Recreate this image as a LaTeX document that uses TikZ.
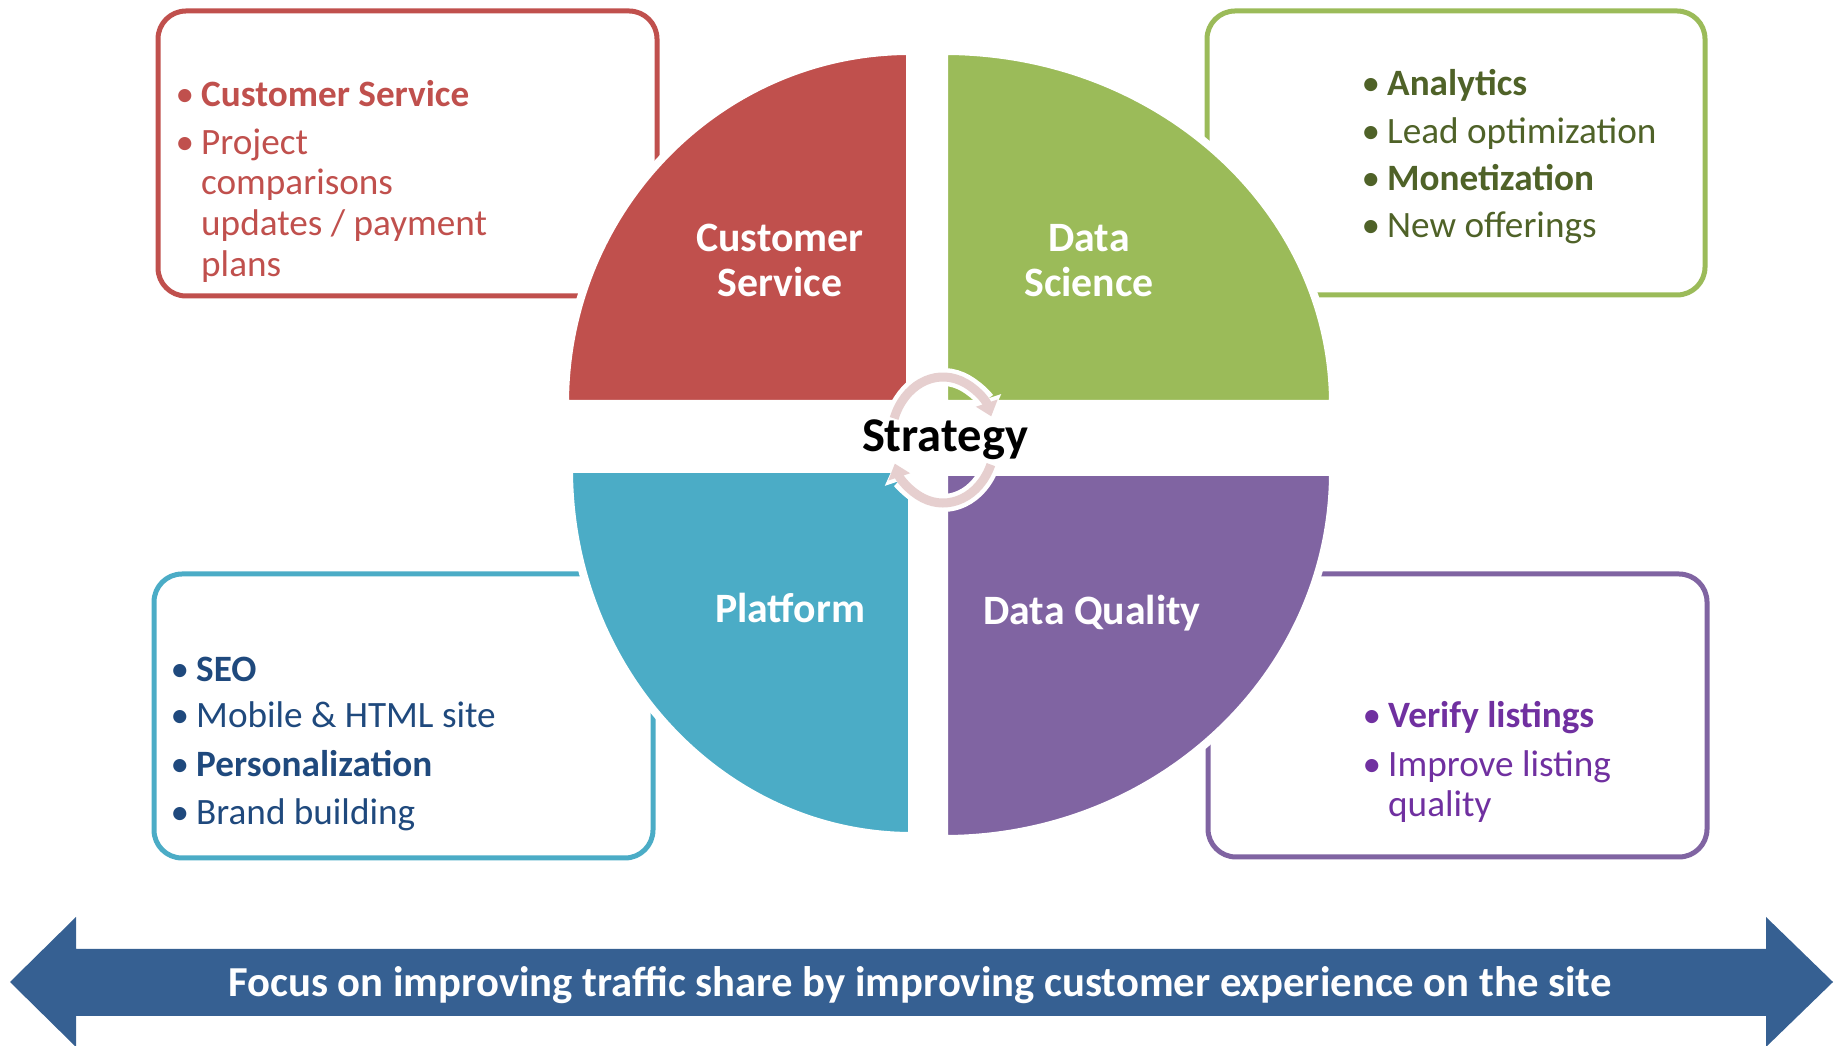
\documentclass[tikz,border=0pt]{standalone}
\usepackage{fontspec}
\setmainfont{Carlito}
\usetikzlibrary{arrows.meta}

\definecolor{csred}{HTML}{C0504D}
\definecolor{dsgreen}{HTML}{9BBB59}
\definecolor{dsdark}{HTML}{4F6228}
\definecolor{pfblue}{HTML}{4BACC6}
\definecolor{pfdark}{HTML}{1F497D}
\definecolor{dqpurple}{HTML}{8064A2}
\definecolor{dqdark}{HTML}{7030A0}
\definecolor{focusblue}{HTML}{366092}
\definecolor{ringpink}{HTML}{E6CFCF}

\newcommand{\itembullet}{\llap{\textbullet\hspace{7pt}}}

\begin{document}
\begin{tikzpicture}[x=1pt,y=1pt,inner sep=0pt,
  box/.style={line width=5pt,rounded corners=28pt},
  quad/.style={draw=white,line width=8pt},
  item/.style={anchor=base west,font=\fontsize{37.2}{44}\selectfont},
  qlabel/.style={anchor=base,text=white,font=\bfseries\fontsize{41.8}{45}\selectfont}]
\useasboundingbox (0,0) rectangle (1841,1046);

% boxes
\draw[box,csred] (158,750) rectangle (657,1035);
\draw[box,dsgreen] (1207,751) rectangle (1705,1035);
\draw[box,pfblue] (154,188) rectangle (653,472);
\draw[box,dqpurple] (1208,189) rectangle (1707,472);

% quadrants
\filldraw[quad,fill=csred] (910,642) -- (565,642) arc[start angle=180,end angle=90,x radius=345,y radius=353] -- cycle;
\filldraw[quad,fill=dsgreen] (944,642) -- (944,995) arc[start angle=90,end angle=0,x radius=389,y radius=353] -- cycle;
\filldraw[quad,fill=pfblue] (912,577) -- (569,577) arc[start angle=180,end angle=270,x radius=343,y radius=367] -- cycle;
\filldraw[quad,fill=dqpurple] (944,574) -- (1333,574) arc[start angle=0,end angle=-90,x radius=389,y radius=367] -- cycle;

\node[qlabel] (cst) at (780,794) {Customer};
\node[qlabel] (css) at (780,749) {Service};
\node[qlabel] (dst) at (1089,794) {Data};
\node[qlabel] (dss) at (1089,749) {Science};
\node[qlabel] (pft) at (790,423) {Platform};
\node[qlabel] (dqt) at (1092,421) {Data Quality};

% strategy ring
\coordinate (hub) at (943,606);
\draw[white,line width=18pt,-{Triangle[length=18pt,width=32pt]}] (hub) ++(160:52 and 63) arc[start angle=160,end angle=22,x radius=52,y radius=63];
\draw[white,line width=18pt,-{Triangle[length=18pt,width=32pt]}] (hub) ++(-23:52 and 63) arc[start angle=-23,end angle=-158,x radius=52,y radius=63];
\draw[ringpink,line width=9pt,-{Triangle[length=14pt,width=22pt]}] (hub) ++(160:52 and 63) arc[start angle=160,end angle=22,x radius=52,y radius=63];
\draw[ringpink,line width=9pt,-{Triangle[length=14pt,width=22pt]}] (hub) ++(-23:52 and 63) arc[start angle=-23,end angle=-158,x radius=52,y radius=63];
\node[anchor=base,font=\bfseries\fontsize{48.5}{52}\selectfont] (strategy) at (945,594) {Strategy};

% box texts
\node[item,text=csred] (cs1) at (201,939) {\itembullet\textbf{Customer Service}};
\node[item,text=csred] (cs2) at (201,891) {\itembullet Project};
\node[item,text=csred] (cs3) at (201,851) {comparisons};
\node[item,text=csred] (cs4) at (201,810) {updates / payment};
\node[item,text=csred] (cs5) at (201,769) {plans};

\node[item,text=dsdark] (ds1) at (1387,950) {\itembullet\textbf{Analytics}};
\node[item,text=dsdark] (ds2) at (1387,902) {\itembullet Lead optimization};
\node[item,text=dsdark] (ds3) at (1387,855) {\itembullet\textbf{Monetization}};
\node[item,text=dsdark] (ds4) at (1387,808) {\itembullet New offerings};

\node[item,text=pfdark] (pf1) at (196,364) {\itembullet\textbf{SEO}};
\node[item,text=pfdark] (pf2) at (196,318) {\itembullet Mobile \& HTML site};
\node[item,text=pfdark] (pf3) at (196,269) {\itembullet\textbf{Personalization}};
\node[item,text=pfdark] (pf4) at (196,221) {\itembullet Brand building};

\node[item,text=dqdark] (dq1) at (1388,318) {\itembullet\textbf{Verify listings}};
\node[item,text=dqdark] (dq2) at (1388,269) {\itembullet Improve listing};
\node[item,text=dqdark] (dq3) at (1388,229) {quality};

% focus arrow
\fill[focusblue] (10,64) -- (76,129) -- (76,97) -- (1766,97) -- (1766,129) -- (1833,64) -- (1766,-1) -- (1766,30) -- (76,30) -- (76,-1) -- cycle;
\node[anchor=base,text=white,font=\bfseries\fontsize{42.7}{46}\selectfont] (focus) at (920,49) {Focus on improving traffic share by improving customer experience on the site};

\end{tikzpicture}
\end{document}
